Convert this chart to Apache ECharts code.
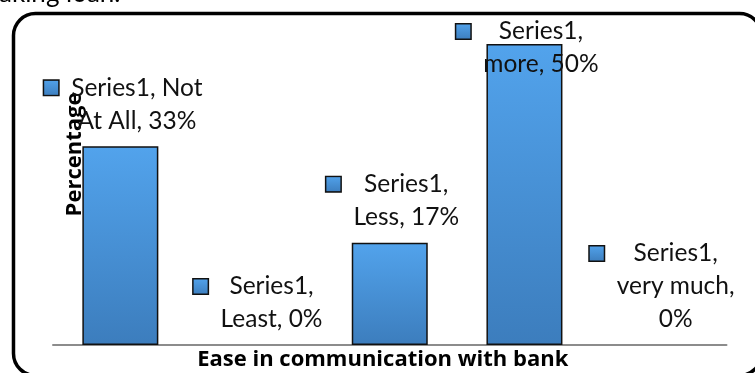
<!DOCTYPE html>
<html>
<head>
<meta charset="utf-8">
<script src="https://cdn.jsdelivr.net/npm/echarts@6/dist/echarts.min.js"></script>
<style>
  html, body { margin: 0; padding: 0; background: #ffffff; }
  #chart { width: 755px; height: 373px; }
</style>
</head>
<body>
<div id="chart"></div>
<script>
// Survey answers: how easy communication with the bank is
const seriesName = 'Series1';
const categories = ['Not At All', 'Least', 'Less', 'more', 'very much'];
const percentages = [33, 0, 17, 50, 0];

const FONT = 'Lato';
const TITLE_FONT = 'Open Sans';

// Blue column fill, lighter at the top
function blueFill() {
  return new echarts.graphic.LinearGradient(0, 0, 0, 1, [
    { offset: 0, color: '#52a3ec' },
    { offset: 1, color: '#3c7dbd' }
  ]);
}

// Greedy word wrap by character count, the way the data labels break
function wrapWords(text, maxChars) {
  const words = text.split(' ');
  const lines = [];
  let cur = '';
  words.forEach(function (w) {
    const next = cur ? cur + ' ' + w : w;
    if (next.length > maxChars && cur) {
      lines.push(cur);
      cur = w;
    } else {
      cur = next;
    }
  });
  if (cur) lines.push(cur);
  return lines;
}

function labelFormatter(p) {
  const lines = wrapWords(seriesName + ', ' + p.name + ', ' + p.value + '%', 12);
  return lines.map(function (ln, i) {
    return (i === 0 ? '{key|}{gap|}' : '{pad|}') + '{t|' + ln + '}';
  }).join('\n');
}

const maxValue = Math.max.apply(null, percentages);

const barData = percentages.map(function (v) {
  const item = { value: v };
  if (v === 0) item.itemStyle = { borderWidth: 0 };
  // the tallest column has no room above it, so its label sits lower
  if (v === maxValue) item.label = { offset: [3, 46] };
  return item;
});

const chart = echarts.init(document.getElementById('chart'), null, { renderer: 'canvas' });

chart.setOption({
  animation: false,
  backgroundColor: '#ffffff',
  grid: {
    left: 53, right: 28.5, top: 44, bottom: 28,
    containLabel: false,
    outerBoundsMode: 'none'
  },
  graphic: [
    {
      type: 'rect',
      z: 0,
      shape: { x: 13.5, y: 13.5, width: 748, height: 362, r: 22 },
      style: { fill: 'none', stroke: '#000000', lineWidth: 3.5 }
    },
    {
      type: 'text',
      z: 0,
      left: -1,
      top: -19,
      style: { text: 'aking loan.', fontFamily: FONT, fontSize: 26, fill: '#000000' }
    }
  ],
  xAxis: {
    type: 'category',
    data: categories,
    name: 'Ease in communication with bank',
    nameLocation: 'middle',
    nameGap: 4,
    nameTextStyle: {
      fontFamily: TITLE_FONT, fontSize: 22, fontWeight: 'bold', color: '#000000',
      verticalAlign: 'top',
      padding: [0, 14, 0, 0]
    },
    axisLine: { show: true, lineStyle: { color: '#8c8c8c', width: 2 } },
    axisTick: { show: false },
    axisLabel: { show: false },
    splitLine: { show: false }
  },
  yAxis: {
    type: 'value',
    min: 0,
    max: 50,
    name: 'Percentage',
    nameLocation: 'middle',
    nameRotate: 90,
    nameGap: -33,
    nameTextStyle: {
      fontFamily: TITLE_FONT, fontSize: 22, fontWeight: 'bold', color: '#000000',
      padding: [0, 0, 0, 80]
    },
    axisLine: { show: false },
    axisTick: { show: false },
    axisLabel: { show: false },
    splitLine: { show: false }
  },
  series: [
    {
      name: seriesName,
      type: 'bar',
      data: barData,
      barWidth: 76,
      itemStyle: {
        color: blueFill(),
        borderColor: '#111111',
        borderWidth: 1.5
      },
      label: {
        show: true,
        position: 'top',
        distance: 9,
        offset: [3, 0],
        formatter: labelFormatter,
        fontFamily: FONT,
        fontSize: 24.5,
        lineHeight: 33,
        color: '#000000',
        rich: {
          key: {
            width: 14, height: 14, align: 'left',
            backgroundColor: blueFill(),
            borderColor: '#111111', borderWidth: 1.5
          },
          gap: { width: 13, align: 'left' },
          pad: { width: 27, align: 'left' },
          t: { fontFamily: FONT, fontSize: 24.5, lineHeight: 33, color: '#111111', align: 'center' }
        }
      }
    }
  ]
});
</script>
</body>
</html>
